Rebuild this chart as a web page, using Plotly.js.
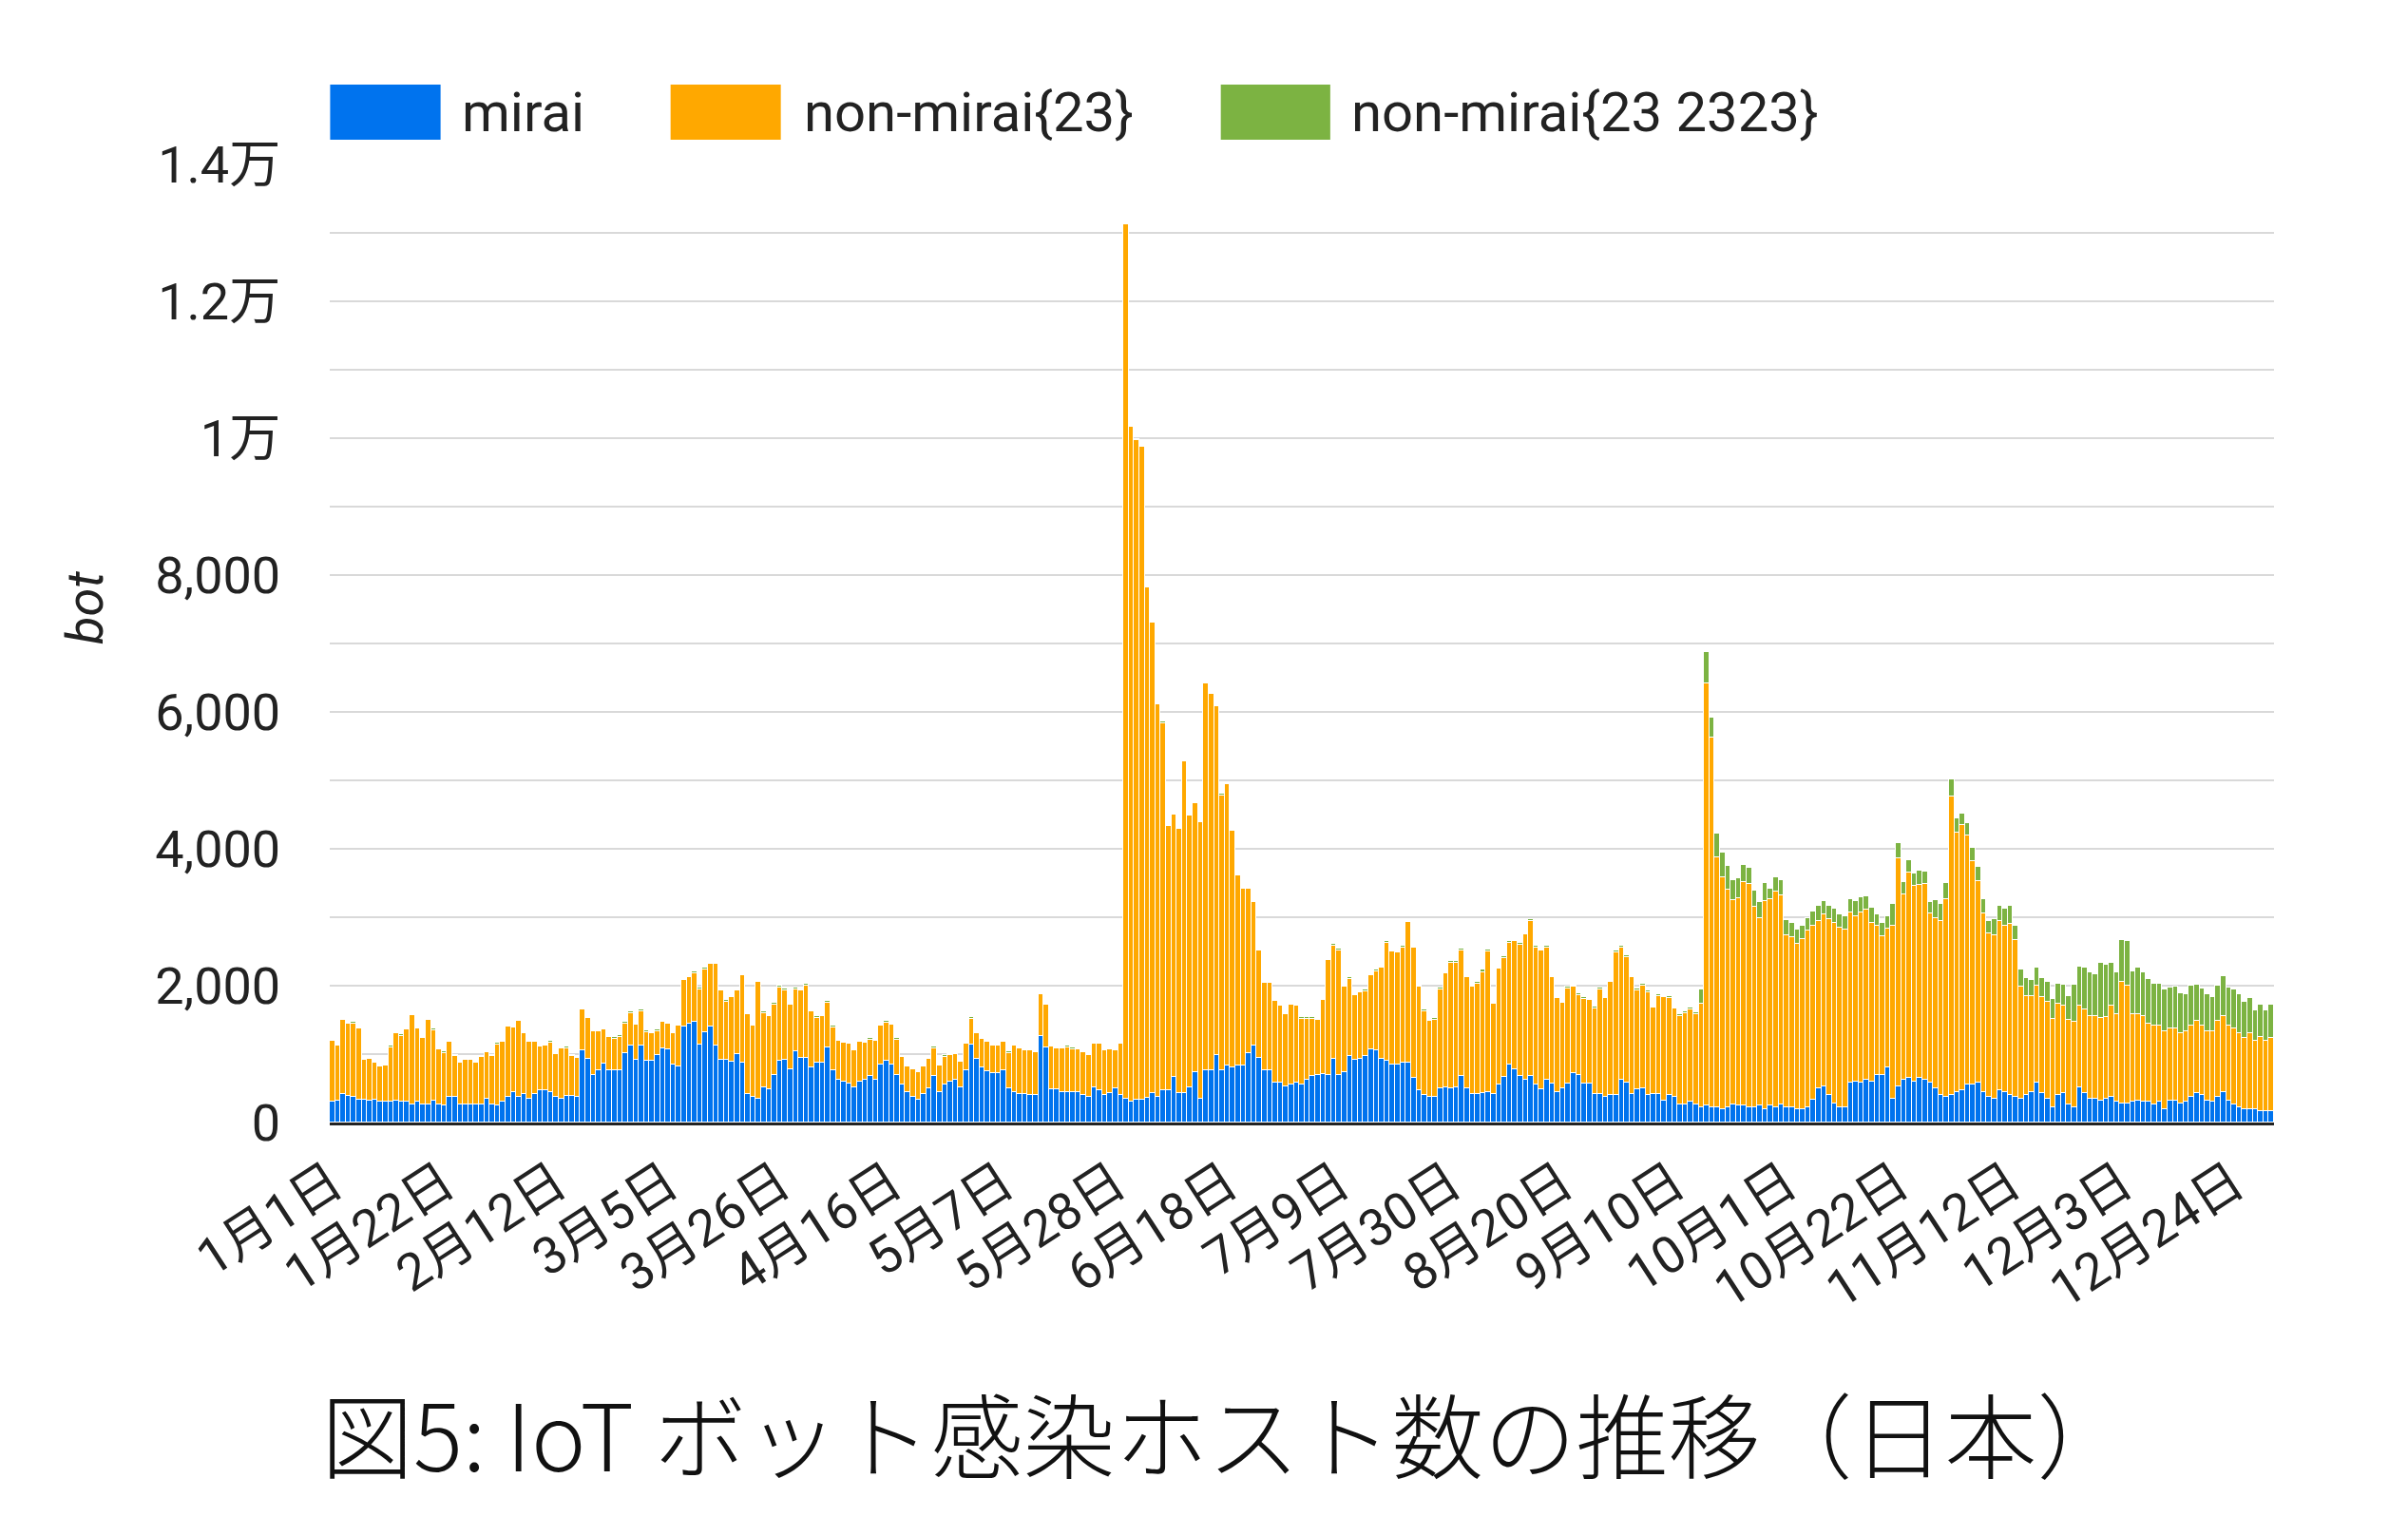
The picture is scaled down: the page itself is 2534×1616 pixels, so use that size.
<!DOCTYPE html>
<html>
<head>
<meta charset="utf-8">
<script src="https://cdn.plot.ly/plotly-3.0.1.min.js"></script>
<style>
  html, body { margin: 0; padding: 0; background: #ffffff; }
</style>
</head>
<body>
<div id="chart" style="width:2534px;height:1616px;"></div>
<script>
// 日別の IoT ボット感染ホスト数（日本, 2017年）
const startYear = 2017;
const seriesNames = ['mirai', 'non-mirai{23}', 'non-mirai{23 2323}'];

const mirai = [
  300,320,420,390,370,340,340,320,340,300,
  300,300,320,300,300,270,300,270,270,320,
  270,250,370,370,270,270,270,270,270,350,
  270,250,300,370,440,370,420,350,420,470,
  470,440,370,350,390,390,370,
  1050,930,700,
  760,860,770,770,770,1010,1130,920,1130,900,
  900,980,1090,1070,850,820,1400,1440,1470,1140,
  1320,1400,1130,920,920,890,1000,870,420,380,
  350,520,480,700,900,920,780,1040,940,940,
  800,870,870,1100,760,630,600,570,520,600,
  630,680,630,850,900,850,700,550,450,380,
  330,420,500,680,450,560,600,630,520,760,
  1140,930,800,750,720,720,760,500,450,420,
  420,400,400,1260,1100,480,480,450,450,440,
  440,400,370,520,470,400,430,500,400,350,
  300,330,340,360,430,380,470,470,670,430,
  430,520,730,350,760,760,980,770,830,800,
  830,840,1020,1120,950,760,760,580,580,530,
  560,580,560,630,680,690,710,700,930,700,
  730,970,910,930,970,1070,1050,930,900,850,
  850,880,880,650,470,400,380,380,500,520,
  500,520,680,500,410,410,430,450,410,560,
  660,850,780,680,630,680,560,480,630,570,
  450,500,570,720,690,570,570,420,420,380,
  400,400,630,590,420,480,500,400,420,420,
  320,400,380,270,270,300,270,220,250,220,
  220,200,220,270,250,250,220,220,250,200,
  250,220,270,220,220,200,200,220,330,500,
  530,400,280,220,220,580,600,580,630,600,
  700,700,800,350,530,630,650,600,650,630,
  580,500,400,380,400,450,470,550,550,580,
  450,380,350,470,450,400,380,350,400,450,
  580,430,350,220,400,430,260,220,510,430,
  350,350,320,350,380,300,280,280,300,320,
  300,300,260,300,200,320,320,280,300,380,
  430,400,320,300,380,450,320,270,220,200,
  200,200,170,170,170
];

const nonMirai23 = [
  890,800,1080,1050,1080,1030,580,610,540,520,
  530,800,980,970,1060,1300,1080,970,1230,1030,
  800,770,810,600,610,650,650,610,690,680,
  700,890,880,1030,950,1110,880,830,760,640,
  650,730,630,730,700,580,580,
  600,600,630,
  570,500,480,450,480,440,470,510,500,420,
  400,350,380,380,450,600,680,680,710,810,
  920,920,1190,1010,850,940,930,1280,1160,1030,
  1700,1080,1070,1020,1070,1010,940,910,990,1060,
  820,660,680,650,630,560,570,580,530,580,
  530,530,560,560,560,580,510,410,370,400,
  400,400,430,400,380,400,380,370,370,390,
  380,370,420,430,400,400,420,520,670,660,
  640,650,630,610,620,630,600,630,650,630,
  630,630,620,630,680,660,640,560,750,12770,
  9860,9640,9530,7460,6870,5730,5370,3860,3830,3860,
  4850,3960,3940,4040,5660,5500,5100,4010,4110,3460,
  2780,2570,2390,2100,1560,1280,1280,1200,1130,1050,
  1160,1130,960,890,840,810,1080,1670,1650,1820,
  1250,1130,950,970,950,1080,1160,1330,1730,1650,
  1630,1680,2050,1900,1510,1230,1100,1120,1450,1660,
  1840,1810,1840,1620,1570,1620,1770,2050,1320,1690,
  1740,1780,1870,1920,2120,2270,2000,2030,1930,1550,
  1370,1250,1390,1260,1170,1240,1220,1250,1530,1440,
  1650,2090,1930,1830,1700,1450,1500,1500,1260,1430,
  1510,1420,1280,1280,1330,1350,1310,1510,6170,5400,
  3660,3380,3180,2980,3030,3260,3260,2930,2740,3030,
  3020,3150,3050,2520,2490,2410,2480,2580,2550,2450,
  2510,2570,2640,2630,2600,2490,2420,2490,2480,2320,
  2180,2020,2030,2520,3330,2700,3000,2860,2820,2850,
  2480,2480,2550,2880,4370,3780,3880,3640,3270,2950,
  2600,2380,2380,2480,2430,2500,2280,1640,1450,1400,
  1420,1400,1420,1300,1340,1280,1240,1250,1200,1220,
  1200,1200,1210,1190,1330,1280,1770,1720,1280,1270,
  1260,1150,1160,1120,1130,1050,1050,1020,1030,1030,
  1050,1020,1020,1030,1100,1100,1100,1100,1080,1030,
  1100,1000,1080,1030,1070
];

const nonMirai2323 = [
  20,20,15,20,20,20,15,15,15,15,
  20,25,15,15,20,20,15,15,20,20,
  20,15,15,20,15,15,15,15,15,15,
  20,20,15,15,15,20,15,15,15,15,
  20,20,20,20,20,20,15,
  15,15,20,20,20,20,25,25,20,25,
  20,25,25,20,30,20,15,20,15,20,
  20,25,20,25,20,20,20,15,15,20,
  15,15,20,20,25,20,25,30,25,15,
  20,20,25,25,20,20,30,
  20,15,15,15,15,15,15,20,15,15,
  20,15,20,15,15,15,15,15,20,25,
  15,20,20,20,15,20,15,15,15,15,
  15,15,15,15,20,15,15,20,15,15,
  15,15,15,15,25,25,15,
  15,15,15,15,15,15,15,15,20,15,
  15,15,15,15,15,15,15,15,15,15,
  15,15,15,15,15,15,20,15,15,15,
  15,15,15,15,20,20,15,15,20,15,
  15,20,15,15,15,20,
  20,25,20,15,25,20,20,20,20,20,
  20,20,20,25,20,20,20,20,25,25,
  25,25,20,25,25,25,20,20,25,30,
  25,20,20,25,20,20,20,20,20,25,
  20,20,20,20,20,25,20,
  25,25,20,20,20,20,25,20,20,25,
  20,25,25,25,20,25,20,25,25,30,
  30,30,30,
  220,450,290,340,360,350,290,290,260,240,
  240,230,270,140,220,220,220,210,210,190,
  190,210,220,
  200,190,200,190,190,200,220,220,190,220,
  160,200,190,320,220,190,190,180,210,190,
  160,270,250,240,250,210,160,190,200,210,
  220,190,240,220,240,260,220,240,260,240,
  260,280,290,290,290,300,
  350,540,570,620,640,620,810,760,620,610,
  620,650,630,670,640,650,610,610,610,600,
  620,590,540,590,540,540,540,500,520,590,
  550,570,570,540,520,440,470,440,480
];

const tickDates = [
  '2017-01-01','2017-01-22','2017-02-12','2017-03-05','2017-03-26','2017-04-16',
  '2017-05-07','2017-05-28','2017-06-18','2017-07-09','2017-07-30','2017-08-20',
  '2017-09-10','2017-10-01','2017-10-22','2017-11-12','2017-12-03','2017-12-24'
];
const tickLabels = [
  '1月1日','1月22日','2月12日','3月5日','3月26日','4月16日',
  '5月7日','5月28日','6月18日','7月9日','7月30日','8月20日',
  '9月10日','10月1日','10月22日','11月12日','12月3日','12月24日'
];
const yTickVals = [0,1000,2000,3000,4000,5000,6000,7000,8000,9000,10000,11000,12000,13000,14000];
const yTickText = ['0','','2,000','','4,000','','6,000','','8,000','','1万','','1.2万','','1.4万'];

const colors = ['#0073ee', '#ffa800', '#7cb342'];
const fontFamily = 'Roboto, "Noto Sans CJK JP", sans-serif';

// 1日ごとの日付（カテゴリ軸）
const days = mirai.map((_, i) => {
  const d = new Date(Date.UTC(startYear, 0, 1 + i));
  return d.toISOString().slice(0, 10);
});

const seriesValues = [mirai, nonMirai23, nonMirai2323];
const traces = seriesValues.map((vals, k) => ({
  type: 'bar',
  x: days,
  y: vals,
  name: seriesNames[k],
  marker: { color: colors[k], line: { color: '#ffffff', width: 1.5 } },
  hoverinfo: 'x+y+name'
}));

// 凡例（大きな色見本を再現するため shapes と annotations で描く）
const legendBoxes = [[0.0002, 0.057], [0.1753, 0.2320], [0.4583, 0.5146]];
const legendTextX = [0.0672, 0.2427, 0.5243];
const shapes = legendBoxes.map((b, k) => ({
  type: 'rect', xref: 'paper', yref: 'paper',
  x0: b[0], x1: b[1], y0: 1.0258, y1: 1.0833,
  fillcolor: colors[k], line: { width: 0 }
}));
const annotations = seriesNames.map((name, k) => ({
  text: name, xref: 'paper', yref: 'paper',
  x: legendTextX[k], y: 1.0546, xanchor: 'left', yanchor: 'middle',
  showarrow: false, font: { family: fontFamily, size: 58, color: '#222222' }
}));

// y 軸タイトル（参照図ではやや上寄り）
annotations.push({
  text: 'bot', xref: 'paper', yref: 'paper',
  x: -0.126, y: 0.537, xanchor: 'center', yanchor: 'middle',
  textangle: -90, showarrow: false,
  font: { family: fontFamily, size: 54, color: '#222222', style: 'italic' }
});

// 図番号キャプション
annotations.push({
  text: '図5: IoT ボット感染ホスト数の推移（日本）',
  xref: 'paper', yref: 'paper', x: 0.4606, y: -0.322,
  xanchor: 'center', yanchor: 'middle', showarrow: false,
  font: { family: '"Noto Sans CJK JP", sans-serif', size: 97, weight: 300, color: '#111111' }
});

const layout = {
  width: 2534,
  height: 1616,
  margin: { l: 347, r: 141, t: 173, b: 435 },
  paper_bgcolor: '#ffffff',
  plot_bgcolor: '#ffffff',
  barmode: 'stack',
  bargap: 0,
  showlegend: false,
  font: { family: fontFamily, size: 54, color: '#222222' },
  xaxis: {
    type: 'date',
    range: ['2016-12-31 12:00', '2017-12-31 12:00'],
    tickmode: 'array',
    tickvals: tickDates,
    ticktext: tickLabels,
    tickangle: -33,
    tickfont: { family: fontFamily, size: 54, color: '#222222' },
    ticks: 'outside',
    ticklen: 8,
    tickcolor: 'rgba(0,0,0,0)',
    showgrid: false,
    showline: true,
    linecolor: '#222222',
    linewidth: 3,
    layer: 'above traces',
    fixedrange: true
  },
  yaxis: {
    range: [0, 14000],
    tickmode: 'array',
    tickvals: yTickVals,
    ticktext: yTickText,
    tickfont: { family: fontFamily, size: 54, color: '#222222' },
    ticks: 'outside',
    ticklen: 40,
    tickcolor: 'rgba(0,0,0,0)',
    gridcolor: '#d9d9d9',
    gridwidth: 2,
    zeroline: false,
    showline: false,
    fixedrange: true
  },
  shapes: shapes,
  annotations: annotations
};

Plotly.newPlot('chart', traces, layout, { displayModeBar: false, responsive: false });
</script>
</body>
</html>
